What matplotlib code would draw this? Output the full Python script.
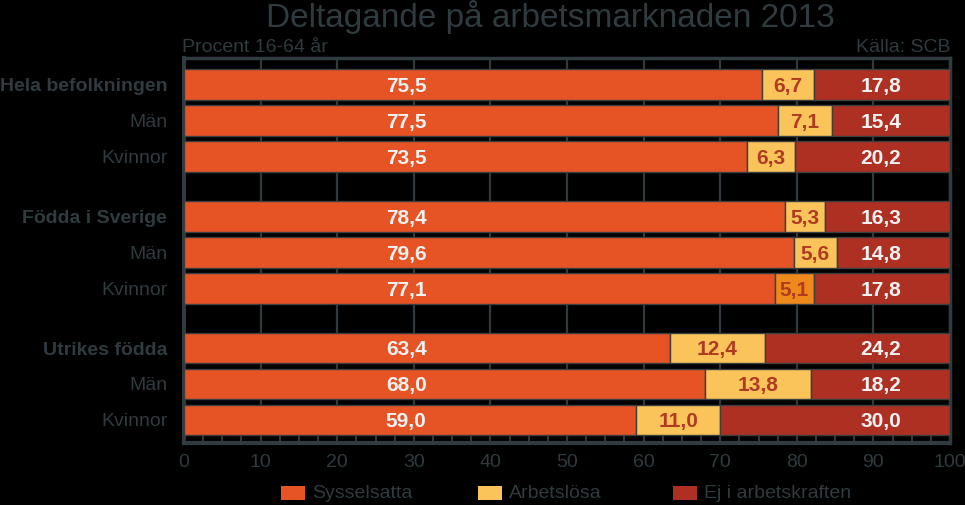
import matplotlib.pyplot as plt
import numpy as np
from matplotlib.patches import Rectangle
from matplotlib.ticker import MultipleLocator

plt.rcParams['font.family'] = ['Liberation Sans', 'DejaVu Sans']

# data
groups = ["Hela befolkningen", "Män", "Kvinnor",
          "Födda i Sverige", "Män", "Kvinnor",
          "Utrikes födda", "Män", "Kvinnor"]
bold_rows = [0, 3, 6]
sysselsatta = [75.5, 77.5, 73.5, 78.4, 79.6, 77.1, 63.4, 68.0, 59.0]
arbetslosa = [6.7, 7.1, 6.3, 5.3, 5.6, 5.1, 12.4, 13.8, 11.0]
ej_arbetskraften = [17.8, 15.4, 20.2, 16.3, 14.8, 17.8, 24.2, 18.2, 30.0]
series_names = ["Sysselsatta", "Arbetslösa", "Ej i arbetskraften"]

txt = '#2f3b3f'
c_syss = '#e65426'
c_arb = '#fbc45b'
c_arb_hl = '#ee8a1c'
c_ej = '#ad3023'
c_edge = '#3b3f40'

# row positions: three groups with a gap between them
gap = 1.66
ypos = []
for g in range(3):
    for k in range(3):
        ypos.append(g * (2 + gap) + k)
ypos = np.array(ypos)

fig = plt.figure(figsize=(9.65, 5.05), dpi=100, facecolor='black')
ax = fig.add_axes([184 / 965, 1 - 443 / 505, (950 - 184) / 965, (443 - 58) / 505])
ax.set_facecolor('black')

h = 0.86
arb_colors = [c_arb] * 9
arb_colors[5] = c_arb_hl
ax.barh(ypos, sysselsatta, height=h, color=c_syss, edgecolor=c_edge, linewidth=1, zorder=3)
ax.barh(ypos, arbetslosa, left=sysselsatta, height=h, color=arb_colors,
        edgecolor=c_edge, linewidth=1, zorder=3)
left2 = np.array(sysselsatta) + np.array(arbetslosa)
ax.barh(ypos, ej_arbetskraften, left=left2, height=h, color=c_ej,
        edgecolor=c_edge, linewidth=1, zorder=3)

for i, y in enumerate(ypos):
    ax.text(29, y + 0.05, f"{sysselsatta[i]:.1f}".replace('.', ','), ha='center', va='center',
            color='#f2f2f2', fontsize=15, fontweight='bold', zorder=4)
    ax.text(sysselsatta[i] + arbetslosa[i] / 2, y + 0.05, f"{arbetslosa[i]:.1f}".replace('.', ','),
            ha='center', va='center', color='#b03a22', fontsize=15, fontweight='bold', zorder=4)
    ax.text(91, y + 0.05, f"{ej_arbetskraften[i]:.1f}".replace('.', ','), ha='center', va='center',
            color='#f2f2f2', fontsize=15, fontweight='bold', zorder=4)

ax.set_xlim(0, 100)
ax.set_ylim(ypos[-1] + 0.64, -0.74)
ax.set_yticks(ypos)
ax.set_yticklabels(groups)
for i, lab in enumerate(ax.get_yticklabels()):
    if i in bold_rows:
        lab.set_fontweight('bold')
ax.tick_params(axis='y', length=0, pad=12, labelsize=14, labelcolor=txt)
ax.set_xticks(np.arange(0, 101, 10))
ax.xaxis.set_minor_locator(MultipleLocator(2.5))
ax.tick_params(axis='x', which='both', direction='in', colors=txt, labelsize=14,
               labelcolor=txt, pad=8)
ax.tick_params(axis='x', which='major', length=0)
ax.tick_params(axis='x', which='minor', length=6, width=1.5)
ax.grid(axis='x', color=txt, linewidth=1.6, zorder=0)

for side in ['left', 'bottom']:
    ax.spines[side].set_color(txt)
    ax.spines[side].set_linewidth(3)
for side in ['top', 'right']:
    ax.spines[side].set_color(txt)
    ax.spines[side].set_linewidth(2.5)

fig.text(550 / 965, 1 - 27 / 505, "Deltagande på arbetsmarknaden 2013", ha='center',
         va='baseline', fontsize=24, color=txt)
fig.text(182 / 965, 1 - 47 / 505, "Procent 16-64 år", ha='left', va='center',
         fontsize=14, color=txt)
fig.text(950 / 965, 1 - 47 / 505, "Källa: SCB", ha='right', va='center',
         fontsize=14, color=txt)

# legend
leg_x = [281, 478, 673]
leg_colors = [c_syss, c_arb, c_ej]
for x, col, name in zip(leg_x, leg_colors, series_names):
    fig.patches.append(Rectangle((x / 965, 1 - 500 / 505), 24 / 965, 14 / 505,
                                 transform=fig.transFigure, facecolor=col,
                                 edgecolor='none'))
    fig.text((x + 31) / 965, 1 - 493 / 505, name, ha='left', va='center',
             fontsize=14, color=txt)

fig.savefig('out.png', dpi=100, facecolor='black')
